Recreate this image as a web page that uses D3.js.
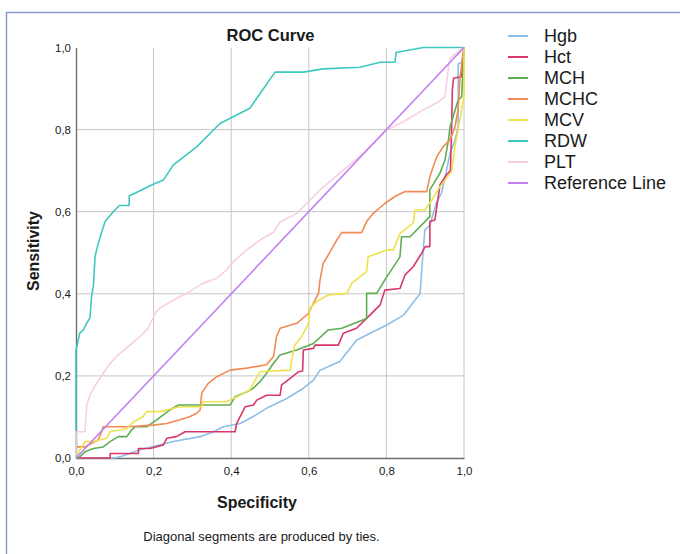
<!DOCTYPE html>
<html>
<head>
<meta charset="utf-8">
<style>
  body { margin: 0; background: #fff; }
  text { font-family: "Liberation Sans", Arial, sans-serif; fill: #1a1a1a; }
</style>
</head>
<body>
<svg width="680" height="554"></svg>
<script src="https://d3js.org/d3.v7.min.js"></script>
<script>

    // ROC points: [specificity axis, sensitivity]
    var hgb = [[0,0],[0.10,0],[0.12,0.005],[0.165,0.02],[0.199,0.028],[0.251,0.040],[0.320,0.052],[0.354,0.064],
        [0.380,0.076],[0.423,0.084],[0.457,0.101],[0.491,0.121],[0.526,0.137],[0.543,0.145],[0.586,0.170],
        [0.612,0.190],[0.629,0.214],[0.680,0.235],[0.723,0.287],[0.758,0.304],[0.801,0.324],[0.844,0.348],
        [0.887,0.401],[0.891,0.458],[0.899,0.555],[0.912,0.567],[0.921,0.596],[0.930,0.624],[0.942,0.645],
        [0.955,0.701],[0.964,0.742],[0.977,0.775],[0.985,0.807],[0.985,0.96],[0.994,0.964],[1,1]];

    var hct = [[0,0],[0.088,0],[0.088,0.011],[0.161,0.011],[0.161,0.023],[0.191,0.023],[0.225,0.032],[0.234,0.048],
        [0.259,0.052],[0.281,0.064],[0.410,0.064],[0.414,0.084],[0.436,0.125],[0.457,0.129],[0.466,0.141],
        [0.491,0.153],[0.526,0.153],[0.530,0.178],[0.552,0.194],[0.573,0.210],[0.584,0.212],[0.586,0.263],
        [0.612,0.267],[0.616,0.275],[0.676,0.275],[0.689,0.304],[0.723,0.316],[0.749,0.340],[0.784,0.373],
        [0.796,0.409],[0.835,0.413],[0.848,0.446],[0.869,0.466],[0.891,0.499],[0.900,0.515],[0.912,0.515],
        [0.912,0.576],[0.925,0.580],[0.938,0.665],[0.955,0.69],[0.965,0.70],[0.968,0.80],[0.970,0.896],
        [0.973,0.925],[0.994,0.929],[1,1]];

    var mch = [[0,0],[0.01,0.003],[0.023,0.015],[0.045,0.023],[0.070,0.027],[0.088,0.040],[0.109,0.052],
        [0.131,0.052],[0.143,0.068],[0.152,0.076],[0.182,0.076],[0.208,0.093],[0.242,0.117],[0.264,0.129],
        [0.397,0.129],[0.410,0.149],[0.440,0.161],[0.457,0.170],[0.474,0.186],[0.491,0.206],[0.509,0.231],
        [0.526,0.251],[0.569,0.263],[0.612,0.279],[0.650,0.312],[0.685,0.316],[0.749,0.340],[0.749,0.401],
        [0.775,0.401],[0.796,0.434],[0.835,0.490],[0.839,0.539],[0.861,0.539],[0.912,0.588],[0.912,0.653],
        [0.938,0.694],[0.951,0.726],[0.960,0.775],[0.964,0.807],[0.985,0.872],[0.994,0.880],[1,1]];

    var mchc = [[0,0],[0,0.027],[0.023,0.027],[0.057,0.044],[0.066,0.064],[0.070,0.076],[0.131,0.076],
        [0.199,0.080],[0.234,0.084],[0.268,0.093],[0.294,0.101],[0.311,0.109],[0.320,0.117],[0.324,0.158],
        [0.341,0.182],[0.363,0.198],[0.397,0.214],[0.440,0.219],[0.491,0.227],[0.509,0.247],[0.517,0.296],
        [0.526,0.316],[0.569,0.328],[0.599,0.352],[0.612,0.377],[0.625,0.401],[0.629,0.434],[0.637,0.474],
        [0.650,0.494],[0.672,0.531],[0.685,0.549],[0.736,0.549],[0.749,0.576],[0.766,0.596],[0.796,0.620],
        [0.822,0.637],[0.848,0.649],[0.904,0.649],[0.912,0.685],[0.921,0.710],[0.930,0.734],[0.946,0.758],
        [0.964,0.775],[0.977,0.807],[0.985,0.85],[0.99,0.93],[1,1]];

    var mcv = [[0,0],[0.01,0.02],[0.023,0.040],[0.045,0.040],[0.079,0.048],[0.088,0.064],[0.131,0.072],
        [0.148,0.088],[0.173,0.101],[0.182,0.113],[0.216,0.113],[0.268,0.125],[0.324,0.125],[0.328,0.137],
        [0.388,0.137],[0.423,0.153],[0.448,0.166],[0.474,0.210],[0.552,0.214],[0.556,0.239],[0.564,0.275],
        [0.582,0.296],[0.599,0.328],[0.603,0.365],[0.620,0.381],[0.650,0.397],[0.698,0.401],[0.711,0.426],
        [0.749,0.454],[0.753,0.490],[0.801,0.507],[0.818,0.507],[0.835,0.547],[0.869,0.572],[0.874,0.604],
        [0.899,0.604],[0.917,0.628],[0.938,0.661],[0.968,0.698],[0.977,0.76],[0.985,0.80],[0.994,0.85],
        [1,0.88],[1,1]];

    var rdw = [[0,0],[0,0.263],[0.010,0.305],[0.019,0.312],[0.028,0.329],[0.036,0.341],[0.040,0.392],
        [0.045,0.421],[0.049,0.490],[0.053,0.507],[0.062,0.538],[0.075,0.576],[0.096,0.600],[0.112,0.615],
        [0.137,0.615],[0.137,0.639],[0.152,0.645],[0.199,0.667],[0.225,0.677],[0.251,0.714],[0.311,0.758],
        [0.371,0.815],[0.448,0.852],[0.513,0.940],[0.586,0.940],[0.637,0.948],[0.732,0.952],[0.784,0.964],
        [0.822,0.964],[0.825,0.988],[0.895,1],[1,1]];

    var plt = [[0,0],[0,0.064],[0.023,0.064],[0.028,0.13],[0.038,0.158],[0.053,0.182],[0.070,0.206],
        [0.088,0.231],[0.113,0.255],[0.139,0.275],[0.165,0.296],[0.186,0.316],[0.204,0.352],[0.216,0.365],
        [0.251,0.385],[0.285,0.401],[0.328,0.426],[0.363,0.438],[0.388,0.458],[0.405,0.478],[0.440,0.507],
        [0.474,0.531],[0.509,0.550],[0.526,0.575],[0.569,0.596],[0.629,0.653],[0.680,0.694],[0.740,0.742],
        [0.784,0.783],[0.8,0.799],[0.844,0.819],[0.895,0.848],[0.930,0.865],[0.951,0.880],[0.960,0.953],
        [0.964,0.974],[1,1]];

    var reference = [[0,0],[1,1]];

    var names = ["Hgb", "Hct", "MCH", "MCHC", "MCV", "RDW", "PLT", "Reference Line"];
    var curves = [hgb, hct, mch, mchc, mcv, rdw, plt, reference];
    var colors = ["#8fbfe6", "#d8386a", "#5fae52", "#f08a56", "#eee24c", "#3ec8be", "#f7cfe2", "#c27ff0"];
    var ticks = [0, 0.2, 0.4, 0.6, 0.8, 1.0];

    var svg = d3.select("svg");

    var x = d3.scaleLinear().domain([0, 1]).range([76, 464]);
    var y = d3.scaleLinear().domain([0, 1]).range([458, 47.5]);
    var comma = function(d) { return d3.format(".1f")(d).replace(".", ","); };

    // frame around the whole output
    svg.append("rect")
        .attr("x", 6.5).attr("y", 12.5)
        .attr("width", 720).attr("height", 600)
        .attr("fill", "none")
        .attr("stroke", "#8b9cd4")
        .attr("stroke-width", 1.5);

    // grid
    svg.append("g").selectAll("line")
        .data(ticks.slice(1))
        .enter().append("line")
        .attr("x1", function(d) { return x(d); })
        .attr("x2", function(d) { return x(d); })
        .attr("y1", y(0)).attr("y2", y(1))
        .attr("stroke", "#c6c6c6");

    svg.append("g").selectAll("line")
        .data(ticks.slice(1, 5))
        .enter().append("line")
        .attr("y1", function(d) { return y(d); })
        .attr("y2", function(d) { return y(d); })
        .attr("x1", x(0)).attr("x2", x(1))
        .attr("stroke", "#c6c6c6");

    // axes
    var xAxis = svg.append("g")
        .attr("transform", "translate(0," + y(0) + ")")
        .call(d3.axisBottom(x).tickValues(ticks).tickFormat(comma).tickSize(0).tickPadding(9));
    var yAxis = svg.append("g")
        .attr("transform", "translate(" + x(0) + ",0)")
        .call(d3.axisLeft(y).tickValues(ticks).tickFormat(comma).tickSize(0).tickPadding(5));

    [xAxis, yAxis].forEach(function(a) {
        a.select(".domain").attr("stroke", "#6e6e6e").attr("stroke-width", 1.4);
        a.selectAll("text")
            .style("font-family", "'Liberation Sans', Arial, sans-serif")
            .style("font-size", "11.5px")
            .attr("fill", "#333");
    });

    // curves
    var line = d3.line()
        .x(function(d) { return x(d[0]); })
        .y(function(d) { return y(d[1]); });

    svg.append("g").selectAll("path")
        .data(curves)
        .enter().append("path")
        .attr("d", line)
        .attr("fill", "none")
        .attr("stroke", function(d, i) { return colors[i]; })
        .attr("stroke-width", 1.6)
        .attr("stroke-linejoin", "round");

    // titles
    svg.append("text")
        .attr("x", 270.5).attr("y", 41)
        .attr("text-anchor", "middle")
        .style("font-size", "16.5px").style("font-weight", "bold")
        .text("ROC Curve");

    svg.append("text")
        .attr("x", 257).attr("y", 508)
        .attr("text-anchor", "middle")
        .style("font-size", "16px").style("font-weight", "bold")
        .text("Specificity");

    svg.append("text")
        .attr("transform", "translate(39,251) rotate(-90)")
        .attr("text-anchor", "middle")
        .style("font-size", "16px").style("font-weight", "bold")
        .text("Sensitivity");

    svg.append("text")
        .attr("x", 261.5).attr("y", 541)
        .attr("text-anchor", "middle")
        .style("font-size", "13px")
        .text("Diagonal segments are produced by ties.");

    // legend
    var legend = svg.append("g").selectAll("g")
        .data(names)
        .enter().append("g")
        .attr("transform", function(d, i) { return "translate(508," + (36 + i * 21) + ")"; });

    legend.append("line")
        .attr("x1", 0).attr("x2", 20)
        .attr("stroke", function(d, i) { return colors[i]; })
        .attr("stroke-width", 2);

    legend.append("text")
        .attr("x", 36).attr("dy", "0.36em")
        .style("font-size", "18px")
        .text(function(d) { return d; });

</script>
</body>
</html>
